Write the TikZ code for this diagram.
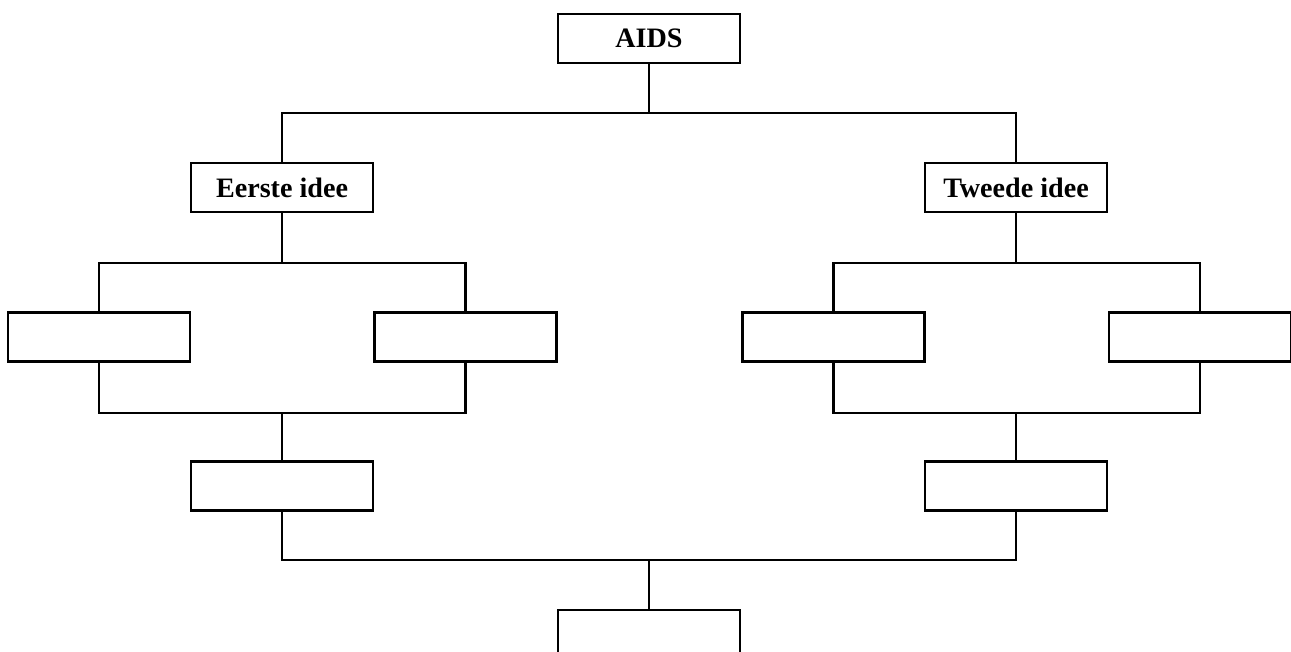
\documentclass[tikz,border=0pt]{standalone}
\usepackage{fontspec}
\setmainfont{Liberation Serif}
\tikzset{
  ideebox/.style={draw, line width=1.2pt, minimum width=3.64cm, minimum height=0.98cm,
    inner sep=0pt, font=\fontsize{16}{19}\selectfont\bfseries},
  tak/.style={line width=1.2pt}
}
\begin{document}
\begin{tikzpicture}

\useasboundingbox (0,0) rectangle (25.82,13.04);
\clip (0,0) rectangle (25.82,13.04);

% boxes
\node[ideebox] (aids) at (12.98,12.27) {AIDS};
\node[ideebox] (eerste) at (5.64,9.29) {Eerste idee};
\node[ideebox] (tweede) at (20.32,9.29) {Tweede idee};

\node[ideebox] (lone) at (1.98,6.30) {};
\node[ideebox] (ltwo) at (9.31,6.30) {};
\node[ideebox] (rone) at (16.67,6.30) {};
\node[ideebox] (rtwo) at (24.00,6.30) {};

\node[ideebox] (lmid) at (5.64,3.32) {};
\node[ideebox] (rmid) at (20.32,3.32) {};

\node[ideebox] (slot) at (12.98,0.35) {};

% branch points
\coordinate (top) at (12.98,10.78);
\coordinate (lsplit) at (5.64,7.78);
\coordinate (rsplit) at (20.32,7.78);
\coordinate (ljoin) at (5.64,4.78);
\coordinate (rjoin) at (20.32,4.78);
\coordinate (join) at (12.98,1.84);

% connectors
\draw[tak] (aids) -- (top);
\draw[tak] (eerste) |- (top) -| (tweede);

\draw[tak] (eerste) -- (lsplit);
\draw[tak] (lone) |- (lsplit) -| (ltwo);
\draw[tak] (lone) |- (ljoin) -| (ltwo);
\draw[tak] (ljoin) -- (lmid);

\draw[tak] (tweede) -- (rsplit);
\draw[tak] (rone) |- (rsplit) -| (rtwo);
\draw[tak] (rone) |- (rjoin) -| (rtwo);
\draw[tak] (rjoin) -- (rmid);

\draw[tak] (lmid) |- (join) -| (rmid);
\draw[tak] (join) -- (slot);

\end{tikzpicture}
\end{document}
